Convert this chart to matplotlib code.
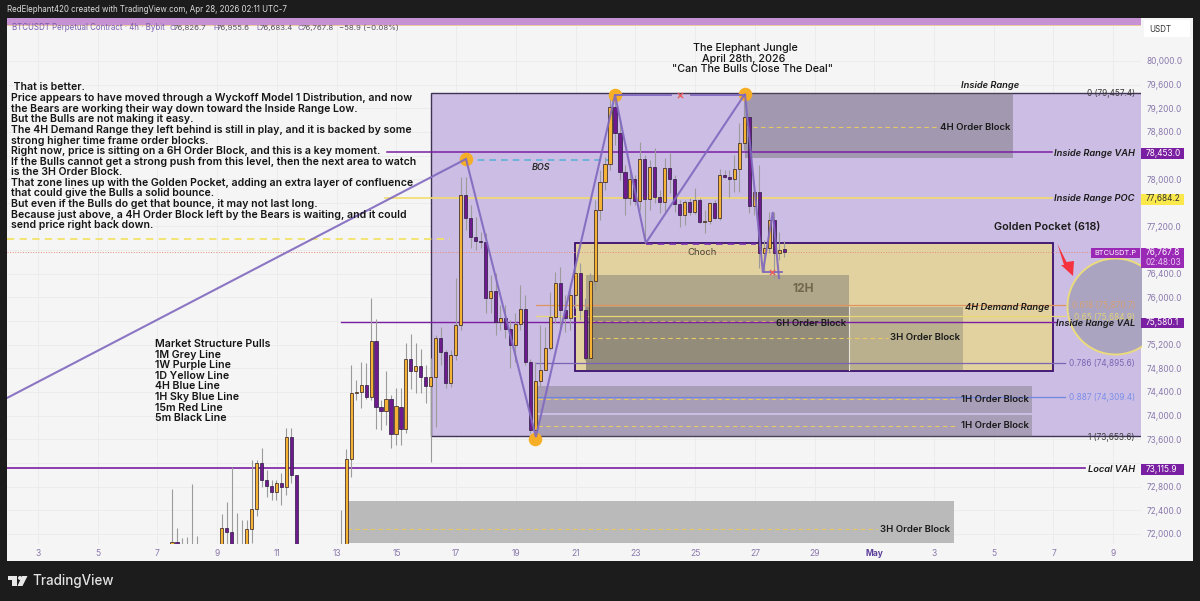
import numpy as np
import matplotlib
matplotlib.use("Agg")
import matplotlib.pyplot as plt
from matplotlib.patches import Rectangle, Polygon, Circle
from matplotlib.transforms import Affine2D

# ---------- data ----------
opens = [71560,71870,71500,71620,71500,71600,71500,71400,71350,71450,
71500,72103,72030,71500,71650,71500,72075,72415,73193,72910,72814,72702,72855,72800,73643,72995,
71500,71400,71300,71350,71400,71300,71350,71400,
71400,71700,73266,74380,74395,74518,74320,75262,74150,74078,74280,73689,74150,73779,74952,74760,74840,74653,74506,74653,75313,75080,74552,75025,75533,
77733,77338,77017,76954,76945,75985,76108,75579,75651,75465,75195,75545,75804,74912,73756,74586,74772,75148,75663,76239,75787,75657,76040,76408,75787,74970,76283,
77479,77957,78252,79216,78776,78127,77687,78008,77636,78337,77660,78201,77694,77620,78184,77998,77580,77394,77620,77450,77643,77276,77290,77592,77344,78066,78042,77998,78178,78617,
79057,77547,77784,76746,76830,77310,76755,76826.7]
highs = [72760,72100,71930,71950,72840,71960,71700,71600,71600,71650,
72335,72538,73135,72357,72234,72234,73249,73249,73452,73080,72910,72910,73030,73795,73795,73000,
71700,71600,71500,71550,71600,71500,71550,71600,
72403,73435,74860,74600,74910,74890,75995,75634,74264,74755,74350,74467,74467,75234,75381,75229,75127,74856,74975,75364,75500,75110,75110,76328,78042,
78038,77563,77360,77107,77090,76379,76413,75872,75872,75618,75736,76210,76040,74950,74912,75533,75499,76091,76430,76515,76040,76244,76582,76582,75990,76413,77648,
78156,78375,79425,79425,79000,78240,78156,78070,78634,78410,78325,78528,77817,78359,78443,78070,77648,77648,77682,77850,77682,77479,77620,77640,78170,78156,78156,78410,78950,79390,
79137,77817,78240,76971,77445,77445,77107,76955.6]
lows = [71390,71300,71300,71350,71300,71300,71200,71100,71100,71200,
71300,71500,71300,71300,71300,71300,71850,72300,72797,72623,72572,72572,72488,72650,72860,71300,
71200,71100,71000,71100,71200,71100,71100,71200,
71200,71500,72966,74260,74130,74280,74264,73773,73756,73840,73457,73503,73503,73711,74450,74382,74382,74218,73220,73807,74856,74467,74484,74941,75448,
77140,76836,76802,76836,75736,75736,75363,75448,75313,74805,74907,75448,74856,73705,73638,74484,74772,75110,75567,75448,75415,75448,75820,75618,74941,74941,76125,
77310,77817,78156,78575,77986,77394,77564,77564,77479,76920,77479,77597,77428,77445,77766,77445,77191,77225,77394,77410,77260,77090,77240,77330,77310,78020,77699,77784,77784,78494,
77428,77394,76498,76430,76751,76328,76633,76683.4]
closes = [71870,71500,71620,71500,71600,71550,71400,71350,71450,71500,
72103,72035,71500,71650,71600,72081,72415,73193,72910,72814,72702,72865,72800,73643,72995,71500,
71400,71300,71350,71400,71300,71350,71400,71400,
71700,73266,74380,74395,74518,74320,75262,74150,74078,74280,73689,74163,73779,74952,74760,74840,74653,74506,74653,75313,75080,74552,75025,75533,77733,
77338,77017,76954,76945,75985,76108,75579,75651,75465,75195,75545,75804,74912,73756,74586,74772,75148,75663,76239,75787,75657,76040,76408,75787,74970,76283,77479,
77957,78252,79216,78776,78127,77687,78008,77636,78337,77660,78201,77694,77620,78184,77998,77580,77394,77620,77450,77643,77276,77290,77592,77344,78066,78042,77998,78178,78617,79057,
77547,77784,76746,76830,77310,76755,76800,76767.8]
last_candle_day = 27.985

zig_days = [1.96, 17.33, 19.67, 22.32, 23.35, 26.67, 27.27, 27.6, 27.81]
zig_prices = [74298, 78342, 73638, 79425, 76920, 79442, 76430, 77445, 76328]
pivot_days = [17.33, 22.32, 26.67, 19.64]
pivot_prices = [78342, 79425, 79442, 73600]

fib0, fib1 = 79457.4, 73653.6
vah, poc, val, local_vah = 78453.0, 77684.2, 75580.1, 73115.9
last_price = 76767.8
fib_levels = [75870.7, 75684.9, 74895.6, 74309.4]

day_ticks = [3,5,7,9,11,13,15,17,19,21,23,25,27,29,31,33,35,37,39]
day_labels = ['3','5','7','9','11','13','15','17','19','21','23','25','27','29','May','3','5','7','9']
price_ticks = list(range(72000, 80001, 400))
covered_ticks = [73200, 75600, 76800, 77600, 78400]

note_lines = [" That is better.",
"Price appears to have moved through a Wyckoff Model 1 Distribution, and now",
"the Bears are working their way down toward the Inside Range Low.",
"But the Bulls are not making it easy.",
"The 4H Demand Range they left behind is still in play, and it is backed by some",
"strong higher time frame order blocks.",
"Right now, price is sitting on a 6H Order Block, and this is a key moment.",
"If the Bulls cannot get a strong push from this level, then the next area to watch",
"is the 3H Order Block.",
"That zone lines up with the Golden Pocket, adding an extra layer of confluence",
"that could give the Bulls a solid bounce.",
"But even if the Bulls do get that bounce, it may not last long.",
"Because just above, a 4H Order Block left by the Bears is waiting, and it could",
"send price right back down."]
pull_lines = ["Market Structure Pulls","1M Grey Line","1W Purple Line","1D Yellow Line",
"4H Blue Line","1H Sky Blue Line","15m Red Line","5m Black Line"]
title_lines = ["The Elephant Jungle","April 28th, 2026",'"Can The Bulls Close The Deal"']

# ---------- figure ----------
plt.rcParams['font.family'] = ['Inter', 'DejaVu Sans']
W, H = 1200, 601
fig = plt.figure(figsize=(12, 6.01), dpi=100, facecolor='#1c1c1c')
PX = Affine2D().scale(1, -1).translate(0, H)

def frect(x0, y0, x1, y1, color, z=1, **kw):
    fig.add_artist(Rectangle((x0, y0), x1-x0, y1-y0, transform=PX, facecolor=color, edgecolor='none', zorder=z, **kw))

def T(x, y, s, size=8, color='#1a1a1a', ha='left', weight='normal', style='normal', z=8):
    fig.text(x/W, 1-y/H, s, fontsize=size*0.72, color=color, ha=ha, va='center', fontweight=weight, fontstyle=style, zorder=z)

frect(7, 18, 1193, 561, '#f5f5f5', z=-1)
ax = fig.add_axes([7/W, 1-544/H, 1134/W, 518/H], zorder=0)
ax.set_facecolor('#f5f5f5')
ax.set_xlim(1.962, 39.93)
ax.set_ylim(71828, 80592)
for s in ax.spines.values():
    s.set_visible(False)
ax.grid(True, color='#ececec', lw=0.7, zorder=0)
ax.set_axisbelow(True)
ax.yaxis.tick_right()
ax.set_yticks(price_ticks)
ax.set_yticklabels(['' if p in covered_ticks else f"{p:,.1f}" for p in price_ticks], fontsize=5.9, color='#8a78ad')
ax.tick_params(axis='y', length=0, pad=4)
ax.set_xticks(day_ticks)
ax.set_xticklabels(day_labels, fontsize=6.1, color='#8a78ad')
ax.tick_params(axis='x', length=0, pad=3.5)
ax.get_xticklabels()[14].set_color('#5b3d9a')
ax.get_xticklabels()[14].set_fontweight('bold')

def box(d0, d1, p0, p1, color, alpha=1.0, z=1.0, **kw):
    ax.add_patch(Rectangle((d0, p0), d1-d0, p1-p0, facecolor=color, alpha=alpha, edgecolor='none', zorder=z, **kw))

# range and zones
ax.add_patch(Rectangle((16.16, fib1), 25, fib0-fib1, facecolor='#ccbde4', edgecolor='#3e3355', lw=1.0, zorder=1))
ax.add_patch(Rectangle((20.98, 74760), 16.0, 76921-74760, facecolor='#e2d2a0', edgecolor='#3a0f6e', lw=1.3, zorder=1.1))
box(21.35, 30.15, 74772, 76379, '#6b6b6b', 0.42, 1.2)
box(21.35, 33.97, 74772, 75838, '#6b6b6b', 0.33, 1.25)
box(21.35, 30.15, 74772, 75838, '#5f5f5f', 0.10, 1.26)
ax.plot([30.15, 30.15], [74772, 75838], color='#e8e4d8', lw=0.8, zorder=1.3)
box(26.67, 35.64, 78359, fib0, '#5f5f5f', 0.38, 1.2)
box(19.71, 36.28, 74049, 74506, '#5f5f5f', 0.33, 1.2)
box(19.71, 36.28, 73638, 74005, '#5f5f5f', 0.33, 1.2)
box(13.28, 33.67, 71850, 72555, '#bababa', 1.0, 1.2)

# dashed mids
dash = dict(color='#e8c860', lw=0.8, ls=(0, (4, 3)), zorder=1.5)
ax.plot([26.67, 33.10], [78888, 78888], **dash)
ax.plot([21.48, 31.46], [75318, 75318], **dash)
ax.plot([21.48, 27.67], [75605, 75605], **dash)
ax.plot([19.74, 33.73], [73824, 73824], **dash)
ax.plot([19.74, 33.80], [74286, 74286], **dash)
ax.plot([13.34, 31.09], [72081, 72081], **dash)
ax.plot([1.96, 16.79], [76988, 76988], color='#f2e36a', lw=1.3, ls=(0, (4, 3)), zorder=1.5)

# levels
ax.plot([14.68, 36.95], [vah, vah], color='#7a1fa2', lw=1.1, zorder=2)
ax.plot([14.62, 36.95], [poc, poc], color='#f2dc6b', lw=1.2, zorder=2)
ax.plot([13.14, 37.08], [val, val], color='#7a1fa2', lw=1.0, zorder=2)
ax.plot([1.96, 38.05], [local_vah, local_vah], color='#7a1fa2', lw=1.2, zorder=2)
ax.plot([1.96, 39.93], [last_price, last_price], color='#e58a7a', lw=0.7, ls=':', zorder=2)
fib_colors = ['#e0955f', '#e8d772', '#7b64b4', '#6f86e0']
fib_starts = [19.67, 19.67, 19.67, 19.74]
for lv, c_, st in zip(fib_levels, fib_colors, fib_starts):
    ax.plot([st, 37.38], [lv, lv], color=c_, lw=0.9, zorder=2)

# candles
n = len(opens)
assert n == len(highs) == len(lows) == len(closes)
days = last_candle_day - np.arange(n)[::-1] / 6
o, h, l, c = map(np.array, (opens, highs, lows, closes))
ax.vlines(days, l, h, color='#9b9b9b', lw=0.8, zorder=3)
up = c >= o
ax.bar(days[up], (c-o)[up], bottom=o[up], width=0.105, color='#f5b335', edgecolor='#2a1a20', lw=0.5, zorder=3.2)
ax.bar(days[~up], (o-c)[~up], bottom=c[~up], width=0.105, color='#6f1b8f', edgecolor='#2a1a40', lw=0.5, zorder=3.2)

# structure
ax.plot(zig_days, zig_prices, color='#8068bf', lw=1.5, alpha=0.9, zorder=4, solid_joinstyle='miter')
ax.scatter(pivot_days, pivot_prices, s=95, color='#f5ae25', zorder=3.1, linewidths=0)
ax.plot([22.32, 24.2], [79425, 79425], color='#7f68bd', lw=1.3, zorder=4)
ax.plot([24.85, 26.67], [79425, 79425], color='#7f68bd', lw=1.3, zorder=4)
ax.plot([27.27, 27.9], [76430, 76430], color='#7f68bd', lw=1.3, zorder=4)
ax.plot([17.33, 22.2], [78325, 78325], color='#5fb0d8', lw=1.2, ls=(0, (4, 3)), zorder=3)
ax.plot([23.35, 27.05], [76905, 76905], color='#7a2fb0', lw=1.2, ls=(0, (4, 3)), zorder=4)
ax.scatter([24.51, 27.58], [79425, 76430], marker='x', s=14, color='#e8605f', linewidths=1, zorder=5)
ax.scatter([39.06], [75854], s=4780, facecolor='#aaa4c0', edgecolor='#eadb7e', linewidths=1.4, zorder=1.6)

# arrow
fig.add_artist(Polygon([(1057.5,244),(1066.5,262),(1074,261),(1073,276),(1061,265),(1064,265)], closed=True,
                       transform=PX, facecolor='#f5333f', edgecolor='none', zorder=6))

# top bars
frect(7, 18, 1141, 25, '#c792d3', z=5)
frect(7, 25, 1141, 26, '#ecc9a0', z=5)
frect(1144, 20, 1190, 37, '#ffffff', z=5)
T(1149, 29, 'USDT', 8.0, '#333333')

# header
T(7, 10, 'RedElephant420 created with TradingView.com, Apr 28, 2026 02:11 UTC-7', 7.9, '#dddddd')
T(12, 28, 'BTCUSDT Perpetual Contract · 4h · Bybit', 7.9, '#7a5fae')
for xl, lab, xv, val_s in [(169,'O',174,'76,826.7'),(213,'H',217,'76,955.6'),(256,'L',260,'76,683.4'),(298,'C',302,'76,767.8')]:
    T(xl, 28, lab, 7.8, '#7a5fae')
    T(xv, 28, val_s, 7.8, '#5a5060')
T(339, 28, '−58.9 (−0.08%)', 7.8, '#5a5060')

# notes
for i, s in enumerate(note_lines):
    T(11, 87.5 + i*10.6, s, 10.55, '#151515', weight='semibold')
for i, s in enumerate(pull_lines):
    T(155, 344 + i*10.6, s, 10.6, '#151515', weight='semibold')
for s, y, xc in zip(title_lines, [48, 59, 69], [745, 744, 753]):
    T(xc, y, s, 10.7, '#151515', ha='center', weight='medium')

# labels
T(961, 86, 'Inside Range', 9.3, ha='left', weight='semibold', style='italic')
T(1135, 153, 'Inside Range VAH', 9.3, ha='right', weight='semibold', style='italic')
T(1135, 199, 'Inside Range POC', 9.3, ha='right', weight='semibold', style='italic')
T(1135, 323, 'Inside Range VAL', 9.3, ha='right', weight='semibold', style='italic')
T(1135, 469, 'Local VAH', 9.3, ha='right', weight='semibold', style='italic')
T(1049, 307, '4H Demand Range', 9.3, ha='right', weight='semibold', style='italic')
T(1047.5, 227, 'Golden Pocket (618)', 10.9, ha='center', weight='semibold')
T(1010, 127, '4H Order Block', 9.6, ha='right', weight='semibold')
T(846, 323, '6H Order Block', 9.6, ha='right', weight='semibold')
T(960, 338, '3H Order Block', 9.6, ha='right', weight='semibold')
T(1029, 399, '1H Order Block', 9.6, ha='right', weight='semibold')
T(1029, 426, '1H Order Block', 9.6, ha='right', weight='semibold')
T(950, 529, '3H Order Block', 9.6, ha='right', weight='semibold')
T(803, 289, '12H', 12, '#6f674e', ha='center', weight='bold')
T(702, 252, 'Choch', 9.5, '#4a4438', ha='center')
T(541, 168, 'BOS', 9, '#2a2a2a', ha='center', weight='semibold', style='italic')

# fib labels
T(1135, 94, '0 (79,457.4)', 8.2, '#3a3a3a', ha='right')
T(1135, 306, '0.618 (75,870.7)', 8.2, '#d9a276', ha='right')
T(1135, 317, '0.65 (75,684.9)', 8.2, '#e0d278', ha='right')
T(1135, 363, '0.786 (74,895.6)', 8.2, '#7b64b4', ha='right')
T(1135, 398, '0.887 (74,309.4)', 8.2, '#7b8fe8', ha='right')
T(1135, 437, '1 (73,653.6)', 8.2, '#3a3a3a', ha='right')

# price tags
def tag(x0, y0, x1, y1, color, text, tc='#ffffff', size=8.3, pad=5):
    frect(x0, y0, x1, y1, color, z=7)
    T(x0+pad, (y0+y1)/2, text, size, tc, z=9)
tag(1141, 147.5, 1184, 158.5, '#7a1fa2', '78,453.0')
tag(1141, 193.5, 1184, 204.5, '#fbe84b', '77,684.2', '#333333')
tag(1141, 317.5, 1184, 328, '#7a1fa2', '75,580.1')
tag(1141, 463.5, 1184, 474.5, '#7a1fa2', '73,115.9')
tag(1141, 247.5, 1184, 257.5, '#9a2ab5', '76,767.8')
tag(1141, 257.5, 1184, 267.5, '#9a2ab5', '02:48:03', '#e8c8f0')
tag(1091, 247.5, 1140, 258, '#9a2ab5', 'BTCUSDT.P', size=7.4, pad=3)

# logo
for pts in ([(8,576),(17,576),(17,586),(12,586),(12,580),(8,580)],
            [(22,576),(27.5,576),(22.5,586),(17.5,586)]):
    fig.add_artist(Polygon(pts, closed=True, transform=PX, facecolor='#e8e8e8', edgecolor='none', zorder=6))
fig.add_artist(Circle((20, 578), 2, transform=PX, facecolor='#e8e8e8', edgecolor='none', zorder=6))
T(32, 581, 'TradingView', 13.4, '#e4e4e4', weight='medium')

fig.savefig('out.png', dpi=100, facecolor=fig.get_facecolor())
